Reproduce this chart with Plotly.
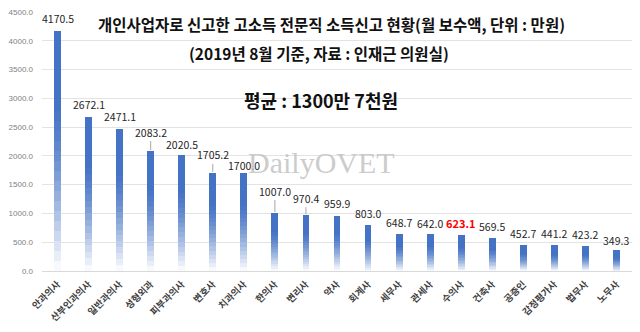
import plotly.graph_objects as go

# 직종별 월 보수액 (단위: 만원)
categories = ["안과의사", "산부인과의사", "일반과의사", "성형외과", "피부과의사", "변호사",
              "치과의사", "한의사", "변리사", "약사", "회계사", "세무사", "관세사", "수의사",
              "건축사", "공증인", "감정평가사", "법무사", "노무사"]
values = [4170.5, 2672.1, 2471.1, 2083.2, 2020.5, 1705.2, 1700.0, 1007.0, 970.4,
          959.9, 803.0, 648.7, 642.0, 623.1, 569.5, 452.7, 441.2, 423.2, 349.3]
y_ticks = [0, 500, 1000, 1500, 2000, 2500, 3000, 3500, 4000, 4500]

# label offsets above each bar (px); labels with leader lines sit higher
label_shift = [12, 13, 12, 19, 10, 18, 8, 22, 17, 12, 11, 11, 11, 12, 12, 11, 12, 12, 10]
leader = {"성형외과", "변호사", "한의사", "변리사"}
highlight = "수의사"

KR = "Noto Sans CJK KR"
BLUE = (68, 114, 196)

# plot-area geometry (px) used to place the free-floating texts
L, R, T, B, W, H = 42, 8, 11, 59, 640, 332
PW, PH = W - L - R, H - T - B


def px(xp, yp):
    return (xp - L) / PW, (H - B - yp) / PH


fig = go.Figure()

# gradient bars: each bar is built from stacked slices fading to white at the base
N = 24
for k in range(N):
    t_bottom = k / N                # fraction of height at slice bottom
    t = 1 - (k + 0.5) / N           # distance from top, 0 = top
    w = max(0.0, (t - 0.3) / 0.7) ** 1.4
    w = min(w, 0.97)
    r, g, b = [round(c + (255 - c) * w) for c in BLUE]
    fig.add_trace(go.Bar(
        x=categories,
        y=[v / N for v in values],
        base=[v * t_bottom for v in values],
        width=0.22,
        marker=dict(color=f"rgb({r},{g},{b})", line=dict(width=0)),
        hoverinfo="skip",
        showlegend=False,
    ))

for cat, v, s in zip(categories, values, label_shift):
    is_hi = cat == highlight
    font = dict(family=KR, size=10.5 if not is_hi else 11,
                color="#FF0000" if is_hi else "#262626",
                weight="bold" if is_hi else "normal")
    if cat in leader:
        fig.add_annotation(x=cat, y=v, text=f"{v:.1f}", showarrow=True,
                           arrowhead=0, arrowwidth=1, arrowcolor="#a6a6a6",
                           ax=0, ay=-s, standoff=1, font=font)
    else:
        fig.add_annotation(x=cat, y=v, text=f"{v:.1f}", showarrow=False,
                           yshift=s, font=font)

# titles
texts = [
    ("<b>개인사업자로 신고한 고소득 전문직 소득신고 현황(월 보수액, 단위 : 만원)</b>", 331, 23, 15.5, KR, "#111111"),
    ("<b>(2019년 8월 기준, 자료 : 인재근 의원실)</b>", 319, 52, 15.5, KR, "#111111"),
    ("<b>평균 : 1300만 7천원</b>", 321, 100, 18, KR, "#111111"),
    ("DailyOVET", 321, 163, 30, "Liberation Serif", "rgba(190,190,190,0.8)"),
]
for text, xp, yp, size, fam, col in texts:
    xx, yy = px(xp, yp)
    fig.add_annotation(xref="paper", yref="paper", x=xx, y=yy, text=text,
                       xanchor="center", yanchor="middle", showarrow=False,
                       font=dict(family=fam, size=size, color=col))

fig.update_layout(
    width=W, height=H,
    margin=dict(l=L, r=R, t=T, b=B),
    paper_bgcolor="white", plot_bgcolor="white",
    barmode="overlay", bargap=0,
    xaxis=dict(range=[-0.5, len(categories) - 0.5], tickangle=-45,
               tickfont=dict(family=KR, size=9.5, color="#404040", weight="bold"),
               showgrid=False, showline=True, linecolor="#d9d9d9", linewidth=1,
               ticks="", ticklabelstandoff=3),
    yaxis=dict(range=[0, 4500], tickvals=y_ticks, tickformat=".1f",
               tickfont=dict(family="Liberation Sans", size=8, color="#7f7f7f"),
               showgrid=True, gridcolor="#e3e3e3", gridwidth=1,
               zeroline=False, ticks="", ticklabelstandoff=8),
)

fig.write_html("out.html")
